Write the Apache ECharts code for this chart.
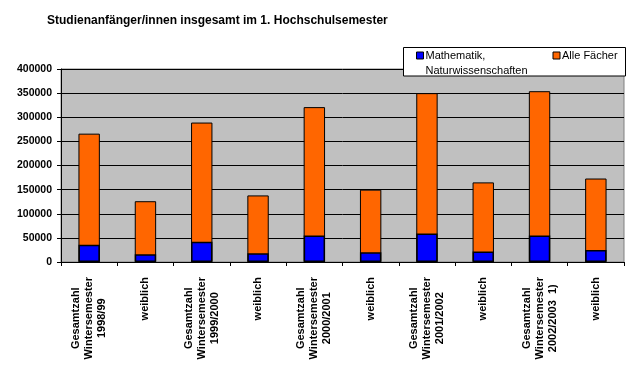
<!DOCTYPE html>
<html>
<head>
<meta charset="utf-8">
<script src="https://cdn.jsdelivr.net/npm/echarts@6/dist/echarts.min.js"></script>
<style>
html,body{margin:0;padding:0;background:#fff;}
#chart{width:643px;height:378px;}
</style>
</head>
<body>
<div id="chart"></div>
<script>
var categories = [
    'Gesamtzahl\nWintersemester\n1998/99', 'weiblich',
    'Gesamtzahl\nWintersemester\n1999/2000', 'weiblich',
    'Gesamtzahl\nWintersemester\n2000/2001', 'weiblich',
    'Gesamtzahl\nWintersemester\n2001/2002', 'weiblich',
    'Gesamtzahl\nWintersemester\n2002/2003  1)', 'weiblich'
];
var alleFaecher = [266000, 126000, 289000, 138000, 321000, 150000, 350000, 165000, 354000, 173000];
var matheNatur = [36000, 16000, 42000, 18000, 55000, 20000, 59000, 22000, 55000, 25000];

var font = 'Arial, "Liberation Sans", sans-serif';
var myChart = echarts.init(document.getElementById('chart'));

var option = {
    animation: false,
    backgroundColor: '#fff',
    title: {
        text: 'Studienanfänger/innen insgesamt im 1. Hochschulsemester',
        left: 42,
        top: 10,
        textStyle: { fontFamily: font, fontSize: 12, fontWeight: 'bold', color: '#000' }
    },
    // weisser Kasten hinter der Legende
    graphic: [{
        type: 'rect',
        z: 3,
        shape: { x: 403.5, y: 47.5, width: 222, height: 28.5 },
        style: { fill: '#fff', stroke: '#000', lineWidth: 1 }
    }],
    legend: {
        left: 416,
        top: 33,
        z: 5,
        itemWidth: 7,
        itemHeight: 7,
        itemGap: 10,
        icon: 'rect',
        padding: 0,
        itemStyle: { borderColor: '#000', borderWidth: 1 },
        textStyle: {
            fontFamily: font, fontSize: 11, color: '#000', lineHeight: 15,
            padding: [15, 0, 0, -3],
            rich: {
                a: { fontFamily: font, fontSize: 11, color: '#000', lineHeight: 15 }
            }
        },
        data: [
            { name: 'Mathematik, Naturwissenschaften', textStyle: { width: 117 } },
            { name: 'Alle Fächer', textStyle: { padding: [0, 0, 0, -3] } }
        ],
        formatter: function (name) {
            if (name.indexOf(', ') < 0) return name;
            return name.split(', ').map(function (s, i, arr) {
                return '{a|' + s + (i < arr.length - 1 ? ',' : '') + '}';
            }).join('\n');
        }
    },
    grid: {
        left: 61,
        right: 19,
        top: 69,
        bottom: 116,
        show: true,
        backgroundColor: '#c0c0c0',
        borderColor: '#808080',
        borderWidth: 1
    },
    xAxis: {
        type: 'category',
        data: categories,
        axisLine: { lineStyle: { color: '#000', width: 1 } },
        axisTick: { show: true, length: 4, lineStyle: { color: '#000' } },
        axisLabel: {
            interval: 0,
            rotate: 90,
            margin: 15,
            formatter: function (v) {
                return v.split('\n').map(function (s) { return '{c|' + s + '}'; }).join('\n');
            },
            rich: {
                c: { align: 'center', fontFamily: font, fontSize: 11, fontWeight: 'bold', color: '#000', lineHeight: 13 }
            }
        }
    },
    yAxis: {
        type: 'value',
        min: 0,
        max: 400000,
        interval: 50000,
        axisLine: { show: true, lineStyle: { color: '#000', width: 1 } },
        axisTick: { show: true, length: 4, lineStyle: { color: '#000' } },
        axisLabel: {
            margin: 9, fontFamily: font, fontSize: 10.5, fontWeight: 'bold', color: '#000',
            formatter: function (v) { return String(v); }
        },
        splitLine: { show: true, lineStyle: { color: '#000', width: 1 } }
    },
    series: [
        {
            name: 'Alle Fächer',
            type: 'bar',
            data: alleFaecher,
            barCategoryGap: '62%',
            barGap: '-100%',
            itemStyle: { color: '#ff6600', borderColor: '#000', borderWidth: 1 }
        },
        {
            name: 'Mathematik, Naturwissenschaften',
            type: 'bar',
            data: matheNatur,
            barCategoryGap: '62%',
            barGap: '-100%',
            itemStyle: { color: '#0000ff', borderColor: '#000', borderWidth: 1.5 }
        }
    ]
};

myChart.setOption(option);
</script>
</body>
</html>
